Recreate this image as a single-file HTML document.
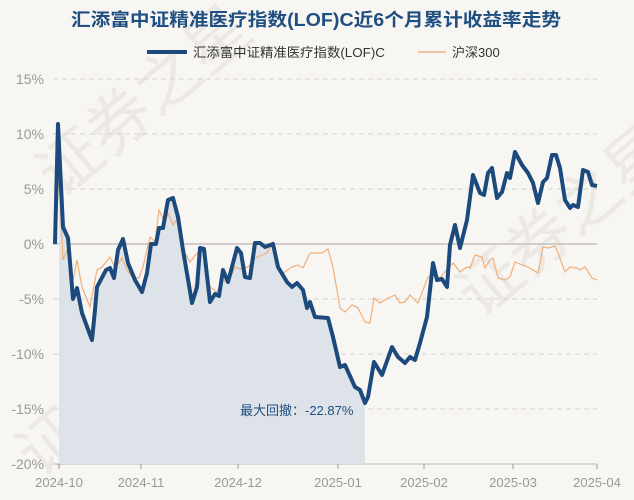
<!DOCTYPE html>
<html><head><meta charset="utf-8"><style>
html,body{margin:0;padding:0;background:#f8f6f2;}
svg{display:block;font-family:"Liberation Sans","Noto Sans CJK SC",sans-serif;}
</style></head><body>
<svg width="634" height="500" viewBox="0 0 634 500" xmlns="http://www.w3.org/2000/svg">
<rect width="634" height="500" fill="#f8f6f2"/>
<g fill="#ece9e4" font-size="64" font-family="'Noto Sans CJK SC',sans-serif">
<text transform="translate(60,200) rotate(-40)">证券之星</text>
<text transform="translate(40,480) rotate(-40)">证券之星</text>
<text transform="translate(480,320) rotate(-40)">证券之星</text>
</g>
<text x="316" y="26" text-anchor="middle" font-size="18" font-weight="bold" fill="#1f4e80" textLength="490" lengthAdjust="spacingAndGlyphs">汇添富中证精准医疗指数(LOF)C近6个月累计收益率走势</text>
<line x1="147" y1="52" x2="187" y2="52" stroke="#1c4a7c" stroke-width="4"/>
<text x="193" y="57" font-size="13" fill="#333" textLength="192" lengthAdjust="spacingAndGlyphs">汇添富中证精准医疗指数(LOF)C</text>
<line x1="418" y1="52" x2="446" y2="52" stroke="#f0b07a" stroke-width="1.5"/>
<text x="452" y="57" font-size="13" fill="#333">沪深300</text>
<g stroke="#d6d3cf" stroke-dasharray="5,4" stroke-width="1">
<line x1="53" y1="79" x2="597" y2="79"/><line x1="53" y1="134" x2="597" y2="134"/><line x1="53" y1="189" x2="597" y2="189"/>
<line x1="53" y1="299" x2="597" y2="299"/><line x1="53" y1="354" x2="597" y2="354"/><line x1="53" y1="409" x2="597" y2="409"/>
</g>
<line x1="53" y1="244" x2="597" y2="244" stroke="#cfcccb" stroke-width="2"/>
<line x1="53" y1="464" x2="597" y2="464" stroke="#bbb" stroke-width="1"/>
<g font-size="14" fill="#999" text-anchor="end">
<text x="44" y="84">15%</text><text x="44" y="139">10%</text><text x="44" y="194">5%</text><text x="44" y="249">0%</text>
<text x="44" y="304">-5%</text><text x="44" y="359">-10%</text><text x="44" y="414">-15%</text><text x="44" y="469">-20%</text>
</g>
<g stroke="#999"><line x1="59" y1="464" x2="59" y2="469"/><line x1="141" y1="464" x2="141" y2="469"/><line x1="238" y1="464" x2="238" y2="469"/><line x1="338" y1="464" x2="338" y2="469"/><line x1="424" y1="464" x2="424" y2="469"/><line x1="513" y1="464" x2="513" y2="469"/><line x1="597" y1="464" x2="597" y2="469"/></g>
<g font-size="13" fill="#999" text-anchor="middle">
<text x="59" y="487">2024-10</text><text x="141" y="487">2024-11</text><text x="238" y="487">2024-12</text><text x="338" y="487">2025-01</text><text x="424" y="487">2025-02</text><text x="513" y="487">2025-03</text><text x="597" y="487">2025-04</text>
</g>
<defs><clipPath id="c"><rect x="59" y="0" width="306" height="464"/></clipPath></defs>
<path clip-path="url(#c)" fill="#dde3e8" d="M55,464 L55,244 L58,124 L63,227 L68,238 L73,299 L77,288 L82,313 L92,340 L95,310 L97,287 L106,270 L110,268 L114,278 L118,250 L123,239 L128,263 L135,280 L142,292 L147,273 L151,244 L156,244 L159,228 L163,228 L168,200 L173,198 L178,217 L183,250 L192,303 L197,287 L200,248 L204,249 L210,302 L215,294 L219,296 L223,270 L228,282 L237,248 L241,253 L245,277 L250,278 L255,243 L260,243 L265,247 L273,244 L278,267 L287,282 L292,287 L297,283 L303,290 L307,308 L310,302 L315,317 L328,318 L333,337 L340,367 L345,365 L355,387 L360,390 L365,403 L368,397 L368,464 Z"/>
<polyline fill="none" stroke="#f0b07a" stroke-width="1.2" points="55,244 59,175 63,260 67,250 73,280 77,260 82,287 90,307 97,270 102,267 110,257 115,268 122,258 127,270 133,278 139,278 143,267 150,237 155,242 159,210 165,223 168,213 173,225 178,218 185,253 190,262 197,253 203,252 210,287 217,292 223,280 228,283 235,267 240,269 248,267 255,258 262,255 267,253 273,242 277,265 283,273 292,267 298,265 303,268 310,253 322,253 328,249 333,267 340,308 345,312 352,305 358,308 365,322 370,323 374,298 380,303 388,298 395,295 400,303 405,302 410,295 418,303 428,277 435,275 440,278 445,272 453,263 460,272 467,267 470,268 475,255 482,257 485,268 490,260 493,258 498,278 505,280 510,277 515,262 522,265 528,267 533,270 538,273 543,247 548,248 555,246 558,253 565,272 570,267 577,268 580,270 585,267 592,278 597,280"/>
<polyline fill="none" stroke="#1c4a7c" stroke-width="4" stroke-linejoin="round" points="55,244 58,124 63,227 68,238 73,299 77,288 82,313 92,340 95,310 97,287 106,270 110,268 114,278 118,250 123,239 128,263 135,280 142,292 147,273 151,244 156,244 159,228 163,228 168,200 173,198 178,217 183,250 192,303 197,287 200,248 204,249 210,302 215,294 219,296 223,270 228,282 237,248 241,253 245,277 250,278 255,243 260,243 265,247 273,244 278,267 287,282 292,287 297,283 303,290 307,308 310,302 315,317 328,318 333,337 340,367 345,365 355,387 360,390 365,403 368,397 374,362 382,375 392,347 398,357 405,363 410,357 415,360 420,343 427,317 433,263 437,280 442,279 447,287 450,245 455,225 460,248 467,220 473,175 480,193 484,195 488,173 492,168 497,198 502,192 507,173 510,178 515,152 522,165 528,173 533,183 538,203 543,182 547,178 552,155 556,155 560,168 565,200 570,208 573,205 578,207 583,170 588,172 592,185 597,186"/>
<text x="240" y="415" font-size="13" fill="#1f4e80">最大回撤：-22.87%</text>
</svg>
</body></html>
